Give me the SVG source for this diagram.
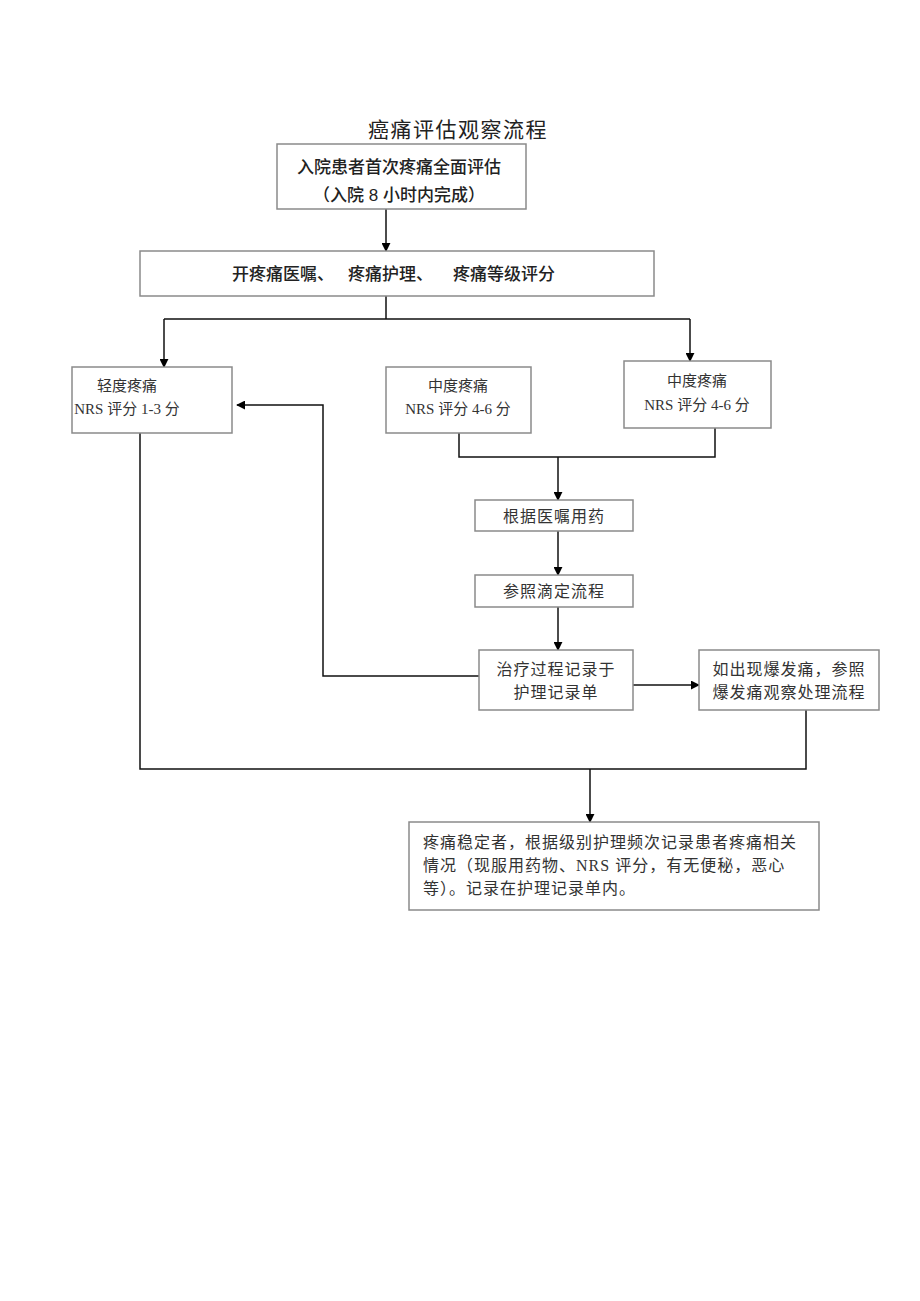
<svg xmlns="http://www.w3.org/2000/svg" width="920" height="1301" viewBox="0 0 920 1301">
<defs>
<marker id="ah" viewBox="0 0 10 10" refX="9" refY="5" markerWidth="9" markerHeight="9" markerUnits="userSpaceOnUse" orient="auto"><path d="M0,0 L10,5 L0,10 z" fill="#000"/></marker>
<style>
.box{fill:#fff;stroke:#8a8a8a;stroke-width:1.5}
.ln{fill:none;stroke:#111;stroke-width:1.5}
.ar{fill:none;stroke:#111;stroke-width:1.5;marker-end:url(#ah)}
.sans{font-family:"Liberation Sans","Noto Sans CJK SC",sans-serif;font-size:17px;fill:#222;font-weight:500}
.ser{font-family:"Liberation Serif","Noto Sans CJK SC",serif;font-size:15px;fill:#333;text-anchor:middle}
.serl{font-family:"Liberation Serif","Noto Sans CJK SC",serif;font-size:16px;fill:#333;letter-spacing:1px}
</style>
</defs>
<rect width="920" height="1301" fill="#fff"/>
<text x="458" y="137" style="font-family:'Liberation Serif','Noto Sans CJK SC',serif;font-size:21px;fill:#222" text-anchor="middle" letter-spacing="1.5">癌痛评估观察流程</text>
<g id="connectors">
<path class="ar" d="M386,209 V251"/>
<path class="ln" d="M386,296 V319 M164,319 H690"/>
<path class="ar" d="M164,319 V367"/>
<path class="ar" d="M690,319 V361"/>
<path class="ln" d="M459,433 V457 H715 V428"/>
<path class="ar" d="M558,457 V500"/>
<path class="ar" d="M558,531 V575"/>
<path class="ar" d="M558,607 V650"/>
<path class="ar" d="M633,685 H699"/>
<path class="ar" d="M479,676 H323 V405 H237"/>
<path class="ln" d="M140,433 V769 H806 V710"/>
<path class="ar" d="M590,769 V822"/>
</g>
<g id="n1"><rect class="box" x="277" y="144" width="249" height="65"/>
<text class="sans" x="399" y="173" text-anchor="middle">入院患者首次疼痛全面评估</text>
<text class="sans" x="399" y="201" text-anchor="middle">（入院 8 小时内完成）</text></g>
<g id="n2"><rect class="box" x="140" y="251" width="514" height="45"/>
<text class="sans" x="232" y="280">开疼痛医嘱、</text>
<text class="sans" x="348" y="280">疼痛护理、</text>
<text class="sans" x="453" y="280">疼痛等级评分</text></g>
<g id="n3"><rect class="box" x="72" y="367" width="160" height="66"/>
<text class="ser" x="127" y="391">轻度疼痛</text>
<text class="ser" x="127" y="414">NRS 评分 1-3 分</text></g>
<g id="n4"><rect class="box" x="386" y="367" width="145" height="66"/>
<text class="ser" x="458" y="391">中度疼痛</text>
<text class="ser" x="458" y="414">NRS 评分 4-6 分</text></g>
<g id="n5"><rect class="box" x="624" y="361" width="147" height="67"/>
<text class="ser" x="697" y="386">中度疼痛</text>
<text class="ser" x="697" y="410">NRS 评分 4-6 分</text></g>
<g id="n6"><rect class="box" x="475" y="500" width="158" height="31"/>
<text class="ser" x="554" y="522" style="font-size:16px" letter-spacing="1">根据医嘱用药</text></g>
<g id="n7"><rect class="box" x="475" y="575" width="158" height="32"/>
<text class="ser" x="554" y="597" style="font-size:16px" letter-spacing="1">参照滴定流程</text></g>
<g id="n8"><rect class="box" x="479" y="650" width="154" height="60"/>
<text class="ser" x="556" y="675" style="font-size:16px" letter-spacing="1">治疗过程记录于</text>
<text class="ser" x="556" y="698" style="font-size:16px" letter-spacing="1">护理记录单</text></g>
<g id="n9"><rect class="box" x="699" y="650" width="180" height="60"/>
<text class="ser" x="789" y="675" style="font-size:16px" letter-spacing="1">如出现爆发痛，参照</text>
<text class="ser" x="789" y="698" style="font-size:16px" letter-spacing="1">爆发痛观察处理流程</text></g>
<g id="n10"><rect class="box" x="409" y="822" width="410" height="88"/>
<text class="serl" x="423" y="848">疼痛稳定者，根据级别护理频次记录患者疼痛相关</text>
<text class="serl" x="423" y="871">情况（现服用药物、NRS 评分，有无便秘，恶心</text>
<text class="serl" x="423" y="894">等）。记录在护理记录单内。</text></g>
</svg>
